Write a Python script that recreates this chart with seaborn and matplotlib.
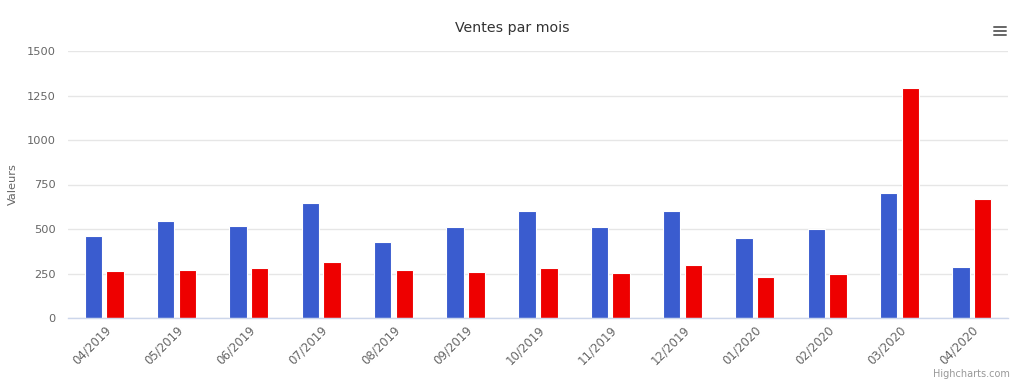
import matplotlib
matplotlib.use("Agg")
import matplotlib.pyplot as plt
from matplotlib.lines import Line2D
import seaborn as sns
import pandas as pd

months = ["04/2019", "05/2019", "06/2019", "07/2019", "08/2019", "09/2019", "10/2019",
          "11/2019", "12/2019", "01/2020", "02/2020", "03/2020", "04/2020"]
serie_bleue = [461, 543, 517, 644, 429, 511, 599, 511, 603, 448, 498, 704, 285]
serie_rouge = [264, 270, 279, 315, 270, 260, 279, 251, 296, 229, 245, 1292, 669]
series_names = ["Série 1", "Série 2"]
y_ticks = [0, 250, 500, 750, 1000, 1250, 1500]

df = pd.DataFrame({
    "mois": months * 2,
    "valeur": serie_bleue + serie_rouge,
    "serie": [series_names[0]] * len(months) + [series_names[1]] * len(months),
})

sns.set_theme(style="white")
plt.rcParams["font.family"] = ["DejaVu Sans"]

fig = plt.figure(figsize=(10.24, 3.83), dpi=100)
ax = fig.add_axes([68 / 1024, 1 - 318 / 383, 940 / 1024, 267 / 383])

sns.barplot(data=df, x="mois", y="valeur", hue="serie", order=months,
            palette=["#3a5ccf", "#ee0000"], saturation=1, width=0.6, gap=0.2,
            edgecolor="white", linewidth=0.8, legend=False, ax=ax)

ax.set_ylim(0, 1500)
ax.set_xlim(-0.5, len(months) - 0.5)
ax.set_yticks(y_ticks)
ax.set_yticklabels([str(v) for v in y_ticks], color="#666666", fontsize=8.2)
ax.yaxis.grid(True, color="#e6e6e6", linewidth=1)
ax.set_axisbelow(True)
ax.tick_params(axis="y", length=0, pad=9)
ax.tick_params(axis="x", length=0, pad=4)
ax.set_xticks(range(len(months)))
ax.set_xticklabels(months, rotation=45, ha="right", rotation_mode="anchor",
                   color="#666666", fontsize=8.5)
for side in ["top", "right", "left"]:
    ax.spines[side].set_visible(False)
ax.spines["bottom"].set_color("#ccd6eb")
ax.spines["bottom"].set_linewidth(1)
ax.set_xlabel("")
ax.set_ylabel("Valeurs", color="#666666", fontsize=8.2, labelpad=6)

fig.text(0.5, 1 - 28 / 383, "Ventes par mois", ha="center", va="center",
         color="#333333", fontsize=10.2)
fig.text(1010 / 1024, 1 - 374 / 383, "Highcharts.com", ha="right", va="center",
         color="#999999", fontsize=7)

for yy in [27, 31, 35]:
    fig.add_artist(Line2D([994 / 1024, 1006 / 1024], [1 - yy / 383, 1 - yy / 383],
                          color="#666666", linewidth=1.4, transform=fig.transFigure))

fig.savefig("out.png", dpi=100)
